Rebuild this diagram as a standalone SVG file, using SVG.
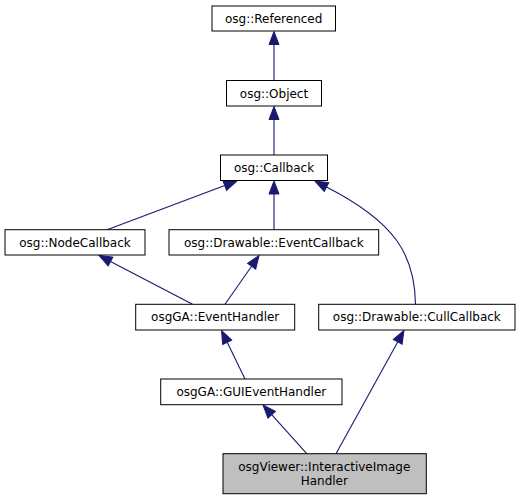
<svg xmlns="http://www.w3.org/2000/svg" width="520" height="500" viewBox="0 0 520 500">
<style>
.box{fill:#ffffff;stroke:#000000;stroke-width:1}
.cur{fill:#bfbfbf;stroke:#000000;stroke-width:1}
.lbl{font-family:"DejaVu Sans",sans-serif;font-size:12px;fill:#000000;text-anchor:middle}
.edge{fill:none;stroke:#191970;stroke-width:1.1}
</style>
<defs>
<marker id="arr" markerUnits="userSpaceOnUse" markerWidth="16" markerHeight="12" refX="0" refY="0" viewBox="0 -6 14 12" orient="auto" overflow="visible">
<path d="M0,-5 L13,0 L0,5 z" fill="#191970" stroke="#191970" stroke-width="1"/>
</marker>
</defs>
<g id="connectors">
<path class="edge" marker-end="url(#arr)" d="M274,80.5 L274,44.5"/>
<path class="edge" marker-end="url(#arr)" d="M274,155 L274,119.5"/>
<path class="edge" marker-end="url(#arr)" d="M107,229.7 L224.8,185.6"/>
<path class="edge" marker-end="url(#arr)" d="M274,229.7 L274,194"/>
<path class="edge" marker-end="url(#arr)" d="M415.5,304.3 C415,255 395,222 326.5,187"/>
<path class="edge" marker-end="url(#arr)" d="M192.5,304.3 L110.5,261.5"/>
<path class="edge" marker-end="url(#arr)" d="M225,304.3 L251.6,266.2"/>
<path class="edge" marker-end="url(#arr)" d="M245,379 L227.2,342.2"/>
<path class="edge" marker-end="url(#arr)" d="M306.7,453.7 L271.7,414.7"/>
<path class="edge" marker-end="url(#arr)" d="M336,453.7 L397.7,341.9"/>
</g>
<g id="node-referenced">
<rect class="box" x="212" y="6" width="123.5" height="25"/>
<text class="lbl" x="273.7" y="22.8">osg::Referenced</text>
</g>
<g id="node-object">
<rect class="box" x="226.5" y="80.5" width="95" height="25.5"/>
<text class="lbl" x="274" y="97.5">osg::Object</text>
</g>
<g id="node-callback">
<rect class="box" x="220.5" y="155" width="107" height="25.5"/>
<text class="lbl" x="274" y="172">osg::Callback</text>
</g>
<g id="node-nodecallback">
<rect class="box" x="5" y="229.7" width="140" height="25.3"/>
<text class="lbl" x="75" y="246.6">osg::NodeCallback</text>
</g>
<g id="node-eventcallback">
<rect class="box" x="169" y="229.7" width="209.7" height="25.3"/>
<text class="lbl" x="273.8" y="246.6">osg::Drawable::EventCallback</text>
</g>
<g id="node-eventhandler">
<rect class="box" x="135.7" y="304.3" width="159" height="25.7"/>
<text class="lbl" x="215.2" y="321.4">osgGA::EventHandler</text>
</g>
<g id="node-cullcallback">
<rect class="box" x="318.7" y="304.3" width="196.3" height="25.7"/>
<text class="lbl" x="416.8" y="321.4">osg::Drawable::CullCallback</text>
</g>
<g id="node-guieventhandler">
<rect class="box" x="160.7" y="379" width="181.3" height="25.7"/>
<text class="lbl" x="251.3" y="396.1">osgGA::GUIEventHandler</text>
</g>
<g id="node-interactiveimagehandler">
<rect class="cur" x="223" y="453.7" width="203.3" height="40"/>
<text class="lbl" x="324.3" y="470.5">osgViewer::InteractiveImage</text>
<text class="lbl" x="324.3" y="484.8">Handler</text>
</g>
</svg>
